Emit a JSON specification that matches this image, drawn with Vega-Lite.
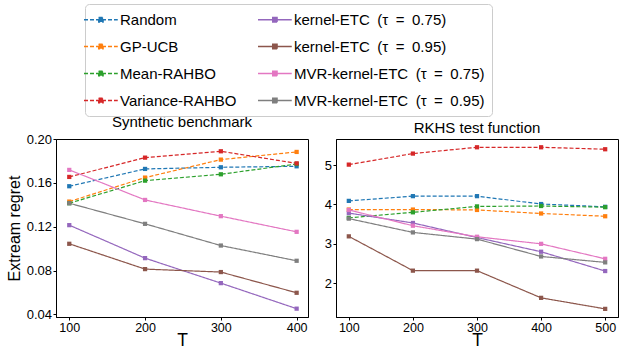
{
  "$schema": "https://vega.github.io/schema/vega-lite/v6.json",
  "padding": {"left": 5, "top": 3, "right": 5, "bottom": 0},
  "config": {
    "font": "Liberation Sans",
    "view": {"stroke": "black", "strokeWidth": 1},
    "axis": {"grid": false, "domainColor": "black", "tickColor": "black", "labelColor": "black", "titleColor": "black", "labelFontSize": 13, "titleFontWeight": "normal", "tickSize": 3, "labelPadding": 1.5},
    "axisX": {"labelFontSize": 12.5},
    "title": {"fontWeight": "normal", "fontSize": 15, "color": "black", "offset": 3},
    "concat": {"spacing": 14}
  },
  "datasets": {
    "d": [
      {"panel": "S", "method": "Random", "T": 100, "regret": 0.1569},
      {"panel": "S", "method": "Random", "T": 200, "regret": 0.1727},
      {"panel": "S", "method": "Random", "T": 300, "regret": 0.1742},
      {"panel": "S", "method": "Random", "T": 400, "regret": 0.1751},
      {"panel": "S", "method": "GP-UCB", "T": 100, "regret": 0.1429},
      {"panel": "S", "method": "GP-UCB", "T": 200, "regret": 0.1648},
      {"panel": "S", "method": "GP-UCB", "T": 300, "regret": 0.1812},
      {"panel": "S", "method": "GP-UCB", "T": 400, "regret": 0.1882},
      {"panel": "S", "method": "Mean-RAHBO", "T": 100, "regret": 0.1414},
      {"panel": "S", "method": "Mean-RAHBO", "T": 200, "regret": 0.162},
      {"panel": "S", "method": "Mean-RAHBO", "T": 300, "regret": 0.1678},
      {"panel": "S", "method": "Mean-RAHBO", "T": 400, "regret": 0.1772},
      {"panel": "S", "method": "Variance-RAHBO", "T": 100, "regret": 0.1654},
      {"panel": "S", "method": "Variance-RAHBO", "T": 200, "regret": 0.183},
      {"panel": "S", "method": "Variance-RAHBO", "T": 300, "regret": 0.1888},
      {"panel": "S", "method": "Variance-RAHBO", "T": 400, "regret": 0.1778},
      {"panel": "S", "method": "kernel-ETC (τ = 0.75)", "T": 100, "regret": 0.1214},
      {"panel": "S", "method": "kernel-ETC (τ = 0.75)", "T": 200, "regret": 0.0913},
      {"panel": "S", "method": "kernel-ETC (τ = 0.75)", "T": 300, "regret": 0.0685},
      {"panel": "S", "method": "kernel-ETC (τ = 0.75)", "T": 400, "regret": 0.0452},
      {"panel": "S", "method": "kernel-ETC (τ = 0.95)", "T": 100, "regret": 0.1044},
      {"panel": "S", "method": "kernel-ETC (τ = 0.95)", "T": 200, "regret": 0.0813},
      {"panel": "S", "method": "kernel-ETC (τ = 0.95)", "T": 300, "regret": 0.0786},
      {"panel": "S", "method": "kernel-ETC (τ = 0.95)", "T": 400, "regret": 0.0597},
      {"panel": "S", "method": "MVR-kernel-ETC (τ = 0.75)", "T": 100, "regret": 0.1718},
      {"panel": "S", "method": "MVR-kernel-ETC (τ = 0.75)", "T": 200, "regret": 0.1444},
      {"panel": "S", "method": "MVR-kernel-ETC (τ = 0.75)", "T": 300, "regret": 0.1296},
      {"panel": "S", "method": "MVR-kernel-ETC (τ = 0.75)", "T": 400, "regret": 0.1153},
      {"panel": "S", "method": "MVR-kernel-ETC (τ = 0.95)", "T": 100, "regret": 0.1414},
      {"panel": "S", "method": "MVR-kernel-ETC (τ = 0.95)", "T": 200, "regret": 0.1226},
      {"panel": "S", "method": "MVR-kernel-ETC (τ = 0.95)", "T": 300, "regret": 0.1028},
      {"panel": "S", "method": "MVR-kernel-ETC (τ = 0.95)", "T": 400, "regret": 0.0889},
      {"panel": "R", "method": "Random", "T": 100, "regret": 4.09},
      {"panel": "R", "method": "Random", "T": 200, "regret": 4.21},
      {"panel": "R", "method": "Random", "T": 300, "regret": 4.21},
      {"panel": "R", "method": "Random", "T": 400, "regret": 4.01},
      {"panel": "R", "method": "Random", "T": 500, "regret": 3.94},
      {"panel": "R", "method": "GP-UCB", "T": 100, "regret": 3.87},
      {"panel": "R", "method": "GP-UCB", "T": 200, "regret": 3.87},
      {"panel": "R", "method": "GP-UCB", "T": 300, "regret": 3.86},
      {"panel": "R", "method": "GP-UCB", "T": 400, "regret": 3.77},
      {"panel": "R", "method": "GP-UCB", "T": 500, "regret": 3.7},
      {"panel": "R", "method": "Mean-RAHBO", "T": 100, "regret": 3.66},
      {"panel": "R", "method": "Mean-RAHBO", "T": 200, "regret": 3.8},
      {"panel": "R", "method": "Mean-RAHBO", "T": 300, "regret": 3.95},
      {"panel": "R", "method": "Mean-RAHBO", "T": 400, "regret": 3.96},
      {"panel": "R", "method": "Mean-RAHBO", "T": 500, "regret": 3.93},
      {"panel": "R", "method": "Variance-RAHBO", "T": 100, "regret": 5.01},
      {"panel": "R", "method": "Variance-RAHBO", "T": 200, "regret": 5.29},
      {"panel": "R", "method": "Variance-RAHBO", "T": 300, "regret": 5.45},
      {"panel": "R", "method": "Variance-RAHBO", "T": 400, "regret": 5.45},
      {"panel": "R", "method": "Variance-RAHBO", "T": 500, "regret": 5.4},
      {"panel": "R", "method": "kernel-ETC (τ = 0.75)", "T": 100, "regret": 3.78},
      {"panel": "R", "method": "kernel-ETC (τ = 0.75)", "T": 200, "regret": 3.53},
      {"panel": "R", "method": "kernel-ETC (τ = 0.75)", "T": 300, "regret": 3.16},
      {"panel": "R", "method": "kernel-ETC (τ = 0.75)", "T": 400, "regret": 2.8},
      {"panel": "R", "method": "kernel-ETC (τ = 0.75)", "T": 500, "regret": 2.31},
      {"panel": "R", "method": "kernel-ETC (τ = 0.95)", "T": 100, "regret": 3.19},
      {"panel": "R", "method": "kernel-ETC (τ = 0.95)", "T": 200, "regret": 2.32},
      {"panel": "R", "method": "kernel-ETC (τ = 0.95)", "T": 300, "regret": 2.32},
      {"panel": "R", "method": "kernel-ETC (τ = 0.95)", "T": 400, "regret": 1.63},
      {"panel": "R", "method": "kernel-ETC (τ = 0.95)", "T": 500, "regret": 1.35},
      {"panel": "R", "method": "MVR-kernel-ETC (τ = 0.75)", "T": 100, "regret": 3.86},
      {"panel": "R", "method": "MVR-kernel-ETC (τ = 0.75)", "T": 200, "regret": 3.46},
      {"panel": "R", "method": "MVR-kernel-ETC (τ = 0.75)", "T": 300, "regret": 3.18},
      {"panel": "R", "method": "MVR-kernel-ETC (τ = 0.75)", "T": 400, "regret": 3.0},
      {"panel": "R", "method": "MVR-kernel-ETC (τ = 0.75)", "T": 500, "regret": 2.62},
      {"panel": "R", "method": "MVR-kernel-ETC (τ = 0.95)", "T": 100, "regret": 3.64},
      {"panel": "R", "method": "MVR-kernel-ETC (τ = 0.95)", "T": 200, "regret": 3.29},
      {"panel": "R", "method": "MVR-kernel-ETC (τ = 0.95)", "T": 300, "regret": 3.12},
      {"panel": "R", "method": "MVR-kernel-ETC (τ = 0.95)", "T": 400, "regret": 2.68},
      {"panel": "R", "method": "MVR-kernel-ETC (τ = 0.95)", "T": 500, "regret": 2.53}
    ]
  },
  "hconcat": [
    {
      "width": 252, "height": 178,
      "title": {"text": "Synthetic benchmark", "fontWeight": "normal", "fontSize": 15},
      "data": {"name": "d"},
      "transform": [{"filter": "datum.panel === 'S'"}],
      "encoding": {
        "x": {"field": "T", "type": "quantitative", "scale": {"domain": [82.5, 415], "nice": false, "zero": false}, "axis": {"values": [100, 200, 300, 400], "title": "T", "titleFontSize": 17.5, "titlePadding": -3}},
        "y": {"field": "regret", "type": "quantitative", "scale": {"domain": [0.0376, 0.2], "nice": false, "zero": false}, "axis": {"values": [0.04, 0.08, 0.12, 0.16, 0.2], "format": ".2f", "title": "Extream regret", "titleFontSize": 16, "titlePadding": 4}},
        "color": {
          "field": "method", "type": "nominal",
          "scale": {
            "domain": ["Random", "GP-UCB", "Mean-RAHBO", "Variance-RAHBO", "kernel-ETC (τ = 0.75)", "kernel-ETC (τ = 0.95)", "MVR-kernel-ETC (τ = 0.75)", "MVR-kernel-ETC (τ = 0.95)"],
            "range": ["#1f77b4", "#ff7f0e", "#2ca02c", "#d62728", "#9467bd", "#8c564b", "#e377c2", "#7f7f7f"]
          },
          "legend": {
            "title": null, "orient": "none", "legendX": 29, "legendY": -135, "columns": 2, "columnPadding": 18, "rowPadding": 10,
            "symbolType": "M-2.2,0H2.3M-0.25,-0.3H0.35V0.3H-0.25Z", "symbolSize": 225, "symbolStrokeWidth": 1.3, "labelFontSize": 15, "labelColor": "black", "labelOffset": 11, "labelLimit": 400,
            "labelExpr": "replace(replace(datum.label, ' = ', '\u2002=\u2002'), ' (', '\u2002(')",
            "strokeColor": "#cccccc", "cornerRadius": 4, "fillColor": "white", "padding": 7,
            "encode": {"symbols": {"update": {"fill": {"scale": "color", "field": "value"}, "fillOpacity": {"value": 1}}}}
          }
        },
        "strokeDash": {
          "field": "method", "type": "nominal",
          "scale": {
            "domain": ["Random", "GP-UCB", "Mean-RAHBO", "Variance-RAHBO", "kernel-ETC (τ = 0.75)", "kernel-ETC (τ = 0.95)", "MVR-kernel-ETC (τ = 0.75)", "MVR-kernel-ETC (τ = 0.95)"],
            "range": [[4, 2], [4, 2], [4, 2], [4, 2], [1, 0], [1, 0], [1, 0], [1, 0]]
          }
        }
      },
      "layer": [
        {"mark": {"type": "line", "strokeWidth": 1.2}},
        {"mark": {"type": "point", "shape": "square", "filled": true, "size": 18, "opacity": 1}}
      ]
    },
    {
      "width": 282, "height": 178,
      "title": {"text": "RKHS test function", "fontWeight": "normal", "fontSize": 15},
      "data": {"name": "d"},
      "transform": [{"filter": "datum.panel === 'R'"}],
      "encoding": {
        "x": {"field": "T", "type": "quantitative", "scale": {"domain": [80, 520], "nice": false, "zero": false}, "axis": {"values": [100, 200, 300, 400, 500], "title": "T", "titleFontSize": 17.5, "titlePadding": -3}},
        "y": {"field": "regret", "type": "quantitative", "scale": {"domain": [1.144, 5.66], "nice": false, "zero": false}, "axis": {"values": [2, 3, 4, 5], "title": null}},
        "color": {"field": "method", "type": "nominal"},
        "strokeDash": {"field": "method", "type": "nominal"}
      },
      "layer": [
        {"mark": {"type": "line", "strokeWidth": 1.2}},
        {"mark": {"type": "point", "shape": "square", "filled": true, "size": 18, "opacity": 1}}
      ]
    }
  ],
  "resolve": {"scale": {"color": "shared", "strokeDash": "shared"}}
}
